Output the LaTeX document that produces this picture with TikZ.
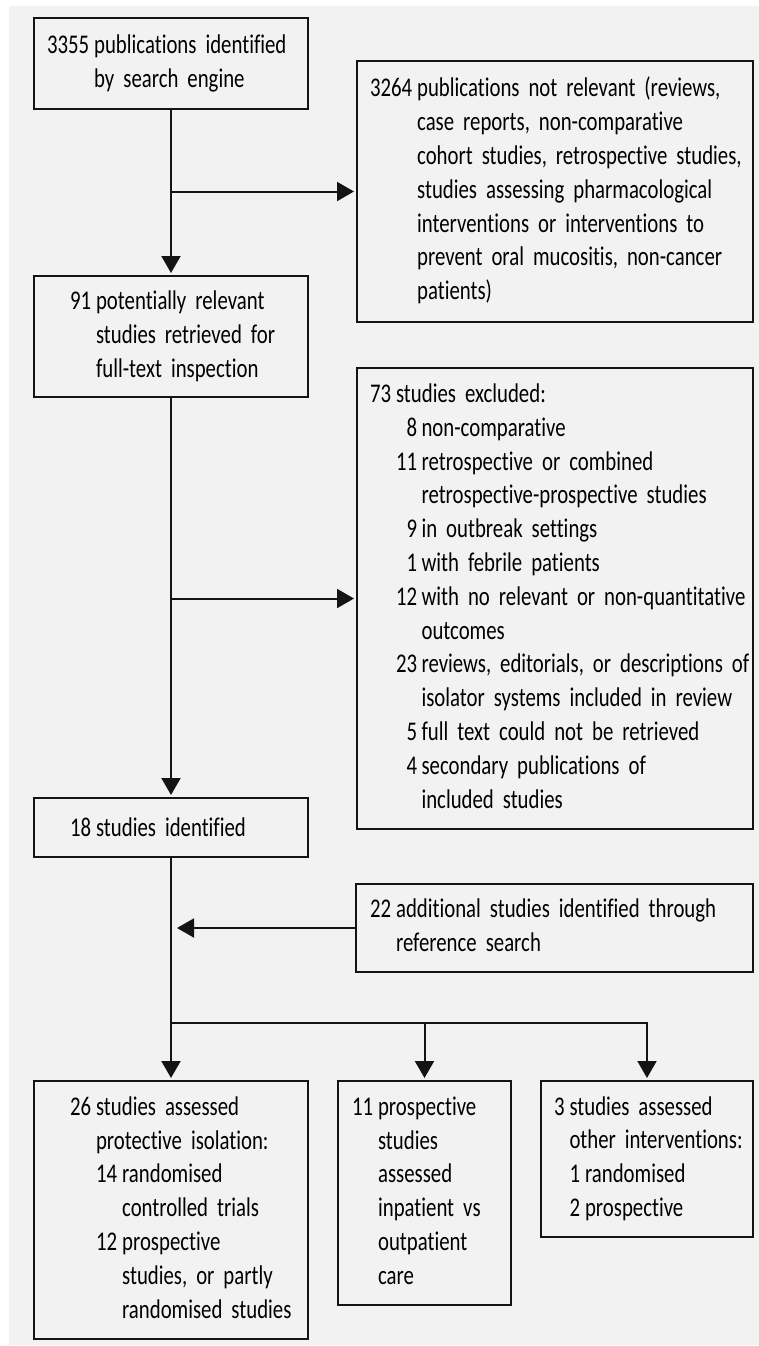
\documentclass[tikz,border=0pt]{standalone}
\usepackage{fontspec}
\setmainfont[FakeStretch=0.77, Ligatures=NoCommon]{Carlito}
\usetikzlibrary{arrows.meta}

\definecolor{bggrey}{HTML}{F2F2F2}
\definecolor{ink}{HTML}{141414}

\newcommand\boxfont{\fontsize{13.5}{16.9}\selectfont\fontdimen2\font=2pt\relax}

\tikzset{
  flowbox/.style={draw=ink, line width=1pt, outer sep=0pt, inner ysep=0pt, align=left,
    font=\boxfont},
  arr/.style={draw=ink, line width=1pt, -{Triangle[width=9.5pt,length=8.5pt]}, shorten >=1.5pt},
}

\begin{document}
\begin{tikzpicture}[x=0.5pt,y=-0.5pt]
    \useasboundingbox (0,0) rectangle (759,1346);
    \fill[bggrey] (9,6) rectangle (759,1345);

    % left column
    \node[flowbox, text width=124pt, inner xsep=6.5pt, minimum height=45.5pt] (b3355) at (171,63.5)
        {\begin{tabular}{@{}r@{\hspace{2.5pt}}l@{}}
         3355 & publications identified\\
              & by search engine
         \end{tabular}};
    \node[flowbox, text width=101pt, inner xsep=18pt, minimum height=60.5pt] (b91) at (171,336.5)
        {\begin{tabular}{@{}r@{\hspace{2.5pt}}l@{}}
         91 & potentially relevant\\
            & studies retrieved for\\
            & full-text inspection
         \end{tabular}};
    \node[flowbox, text width=101pt, inner xsep=18pt, minimum height=29.5pt] (b18) at (171,827.5)
        {18\hspace{2.5pt}studies identified};

    % right column
    \node[flowbox, text width=185pt, inner xsep=6.5pt, minimum height=130.5pt] (b3264) at (555,191.5)
        {\begin{tabular}{@{}r@{\hspace{2.5pt}}l@{}}
         3264 & publications not relevant (reviews,\\
              & case reports, non-comparative\\
              & cohort studies, retrospective studies,\\
              & studies assessing pharmacological\\
              & interventions or interventions to\\
              & prevent oral mucositis, non-cancer\\
              & patients)
         \end{tabular}};
    \node[flowbox, text width=185pt, inner xsep=6.5pt, minimum height=230.5pt] (b73) at (555,598.5)
        {\begin{tabular}{@{}r@{\hspace{2.5pt}}r@{\hspace{2.2pt}}l@{}}
         73 & \multicolumn{2}{@{}l@{}}{studies excluded:}\\
            & 8  & non-comparative\\
            & 11 & retrospective or combined\\
            &    & retrospective-prospective studies\\
            & 9  & in outbreak settings\\
            & 1  & with febrile patients\\
            & 12 & with no relevant or non-quantitative\\
            &    & outcomes\\
            & 23 & reviews, editorials, or descriptions of\\
            &    & isolator systems included in review\\
            & 5  & full text could not be retrieved\\
            & 4  & secondary publications of\\
            &    & included studies
         \end{tabular}};
    \node[flowbox, text width=184.5pt, inner xsep=7pt, minimum height=44pt] (b22) at (554.5,928)
        {\begin{tabular}{@{}r@{\hspace{2.5pt}}l@{}}
         22 & additional studies identified through\\
            & reference search
         \end{tabular}};

    % bottom row
    \node[flowbox, text width=101pt, inner xsep=18pt, minimum height=129pt] (b26) at (171,1210)
        {\begin{tabular}{@{}l@{\hspace{2.5pt}}l@{\hspace{2.5pt}}l@{}}
         26 & \multicolumn{2}{@{}l@{}}{studies assessed}\\
            & \multicolumn{2}{@{}l@{}}{protective isolation:}\\
            & 14 & randomised\\
            &    & controlled trials\\
            & 12 & prospective\\
            &    & studies, or partly\\
            &    & randomised studies
         \end{tabular}};
    \node[flowbox, text width=72.5pt, inner xsep=7pt, minimum height=112pt] (b11) at (424.5,1193)
        {\begin{tabular}{@{}r@{\hspace{2.5pt}}l@{}}
         11 & prospective\\
            & studies\\
            & assessed\\
            & inpatient vs\\
            & outpatient\\
            & care
         \end{tabular}};
    \node[flowbox, text width=93pt, inner xsep=6.5pt, minimum height=78pt] (b3) at (647,1159)
        {\begin{tabular}{@{}l@{\hspace{2.5pt}}l@{\hspace{2.5pt}}l@{}}
         3 & \multicolumn{2}{@{}l@{}}{studies assessed}\\
           & \multicolumn{2}{@{}l@{}}{other interventions:}\\
           & 1 & randomised\\
           & 2 & prospective
         \end{tabular}};

    \coordinate (split) at (171,1023);

\draw[arr] (b3355) -- (b91);
\draw[arr] (b91) -- (b18);
\draw[arr] (b18) -- (b26);

\draw[arr] (b3355.south |- b3264.west) -- (b3264.west);
\draw[arr] (b91.south |- b73.west) -- (b73.west);
\draw[arr, shorten >=3pt] (b22.west) -- (b18.south |- b22.west);

\draw[arr] (split) -| (b3.north);
\draw[arr] (split -| b11.north) -- (b11.north);

\end{tikzpicture}
\end{document}
